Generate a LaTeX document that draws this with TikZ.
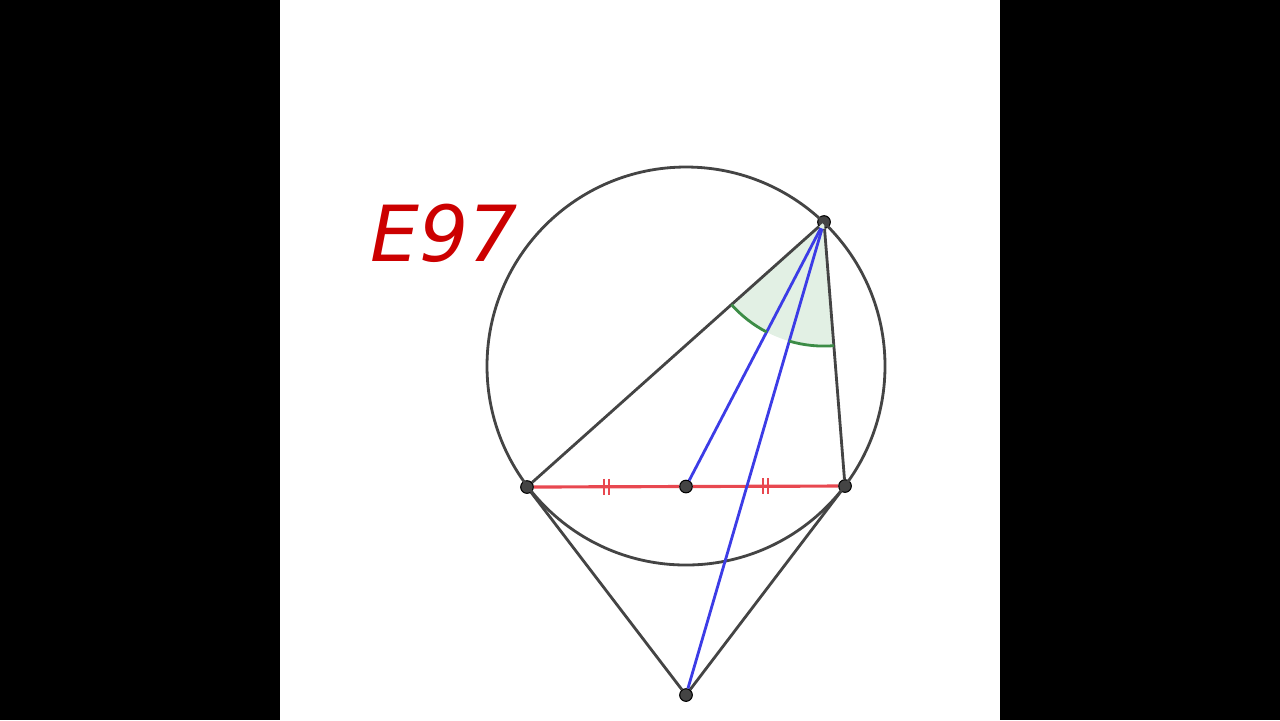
\documentclass[tikz,border=0pt]{standalone}
\usepackage{fontspec}
\newfontfamily\labelfont{DejaVu Sans}
\usetikzlibrary{angles,calc}
\definecolor{ink}{RGB}{68,68,68}
\definecolor{segred}{RGB}{232,72,80}
\definecolor{medblue}{RGB}{60,60,230}
\definecolor{arcgreen}{RGB}{60,140,70}
\definecolor{sectgreen}{RGB}{226,240,228}
\definecolor{titlered}{RGB}{204,0,0}
\begin{document}
\begin{tikzpicture}[
        x=0.01cm, y=-0.01cm,
        dot/.style={circle, draw=black, fill=ink, inner sep=0pt, minimum size=3.6pt, line width=0.3pt},
        ln/.style={draw=ink, line width=0.8pt},
        red seg/.style={draw=segred, line width=0.9pt},
        blue ln/.style={draw=medblue, line width=0.8pt},
        tick/.style={draw=segred, line width=0.75pt},
        ang/.style={draw=arcgreen, line width=0.8pt, angle radius=1.24cm},
    ]
    \useasboundingbox (0,0) rectangle (1280,720);
    \fill[black] (0,0) rectangle (280,720);
    \fill[black] (1000,0) rectangle (1280,720);

    \coordinate (O) at (686,366);
    \node[dot](A) at (824,222) {};
    \node[dot](B) at (527,487) {};
    \node[dot](C) at (845,486) {};
    \node[dot](M) at (686,486.5) {};
    \node[dot](T) at (686,695) {};
    \coordinate (P1) at ($(B)!0.5!(M)$);
    \coordinate (P2) at ($(M)!0.5!(C)$);

    \pic[draw=none, fill=sectgreen, angle radius=1.24cm] {angle=B--A--C};

    \draw[ln] (O) circle [radius=199];
    \path[ln] (A) edge (B) edge (C)
    (T) edge (B) edge (C);
    \path[red seg] (B) edge (M) (M) edge (C);
    \path[blue ln] (A) edge (M) edge (T);

    \pic[ang] {angle=B--A--M};
    \pic[ang] {angle=T--A--C};

    % equal-length marks
    \foreach \p in {P1,P2} {
        \draw[tick] ([shift={(-2.5,-8)}]\p) -- ([shift={(-2.5,8)}]\p);
        \draw[tick] ([shift={(2.5,-8)}]\p) -- ([shift={(2.5,8)}]\p);
    }

    \node[text=titlered, font=\labelfont\itshape\fontsize{22}{26}\selectfont, inner sep=0pt](title) at (444,233) {E97};
    \end{tikzpicture}
\end{document}
